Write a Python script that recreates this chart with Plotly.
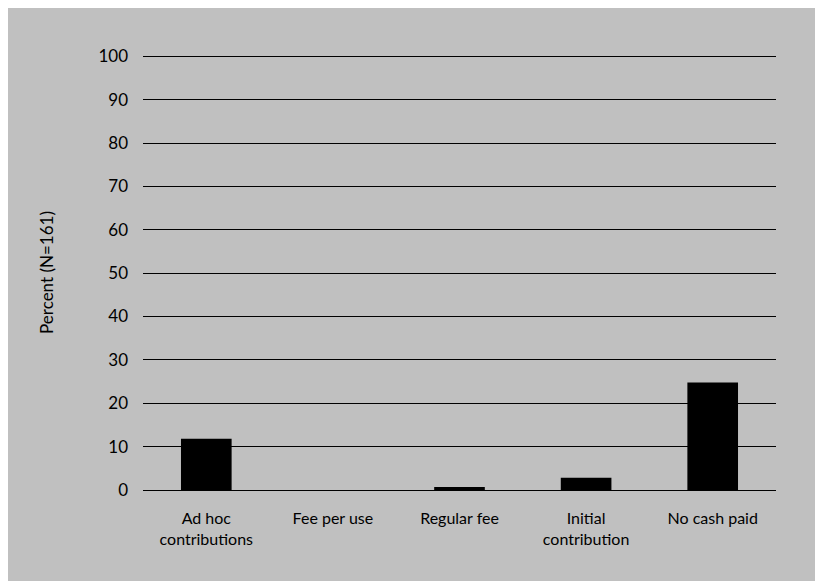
import plotly.graph_objects as go

categories = ["Ad hoc<br>contributions", "Fee per use", "Regular fee",
              "Initial<br>contribution", "No cash paid"]
percent = [11.8, 0, 0.7, 2.8, 24.8]
y_ticks = [0, 10, 20, 30, 40, 50, 60, 70, 80, 90, 100]

fig = go.Figure(go.Bar(
    x=categories, y=percent,
    marker=dict(color="black", line=dict(width=0)),
    width=0.4,
))

fig.update_layout(
    width=823, height=581,
    margin=dict(l=135, r=55, t=47, b=99, pad=0),
    paper_bgcolor="#c0c0c0",
    plot_bgcolor="#c0c0c0",
    font=dict(family="Lato, Noto Sans, sans-serif", size=16, color="black"),
    showlegend=False,
    xaxis=dict(
        showgrid=False, zeroline=False, showline=False,
        ticks="", ticklabelstandoff=17,
        tickfont=dict(size=16),
    ),
    yaxis=dict(
        range=[0, 100.3], tickvals=y_ticks,
        showgrid=True, gridcolor="black", gridwidth=1,
        zeroline=True, zerolinecolor="black", zerolinewidth=1,
        showline=False, ticks="", ticklabelstandoff=14,
        tickfont=dict(size=17),
        title=dict(text="Percent (N=161)", standoff=40, font=dict(size=17)),
    ),
)

fig.write_html("out.html")
